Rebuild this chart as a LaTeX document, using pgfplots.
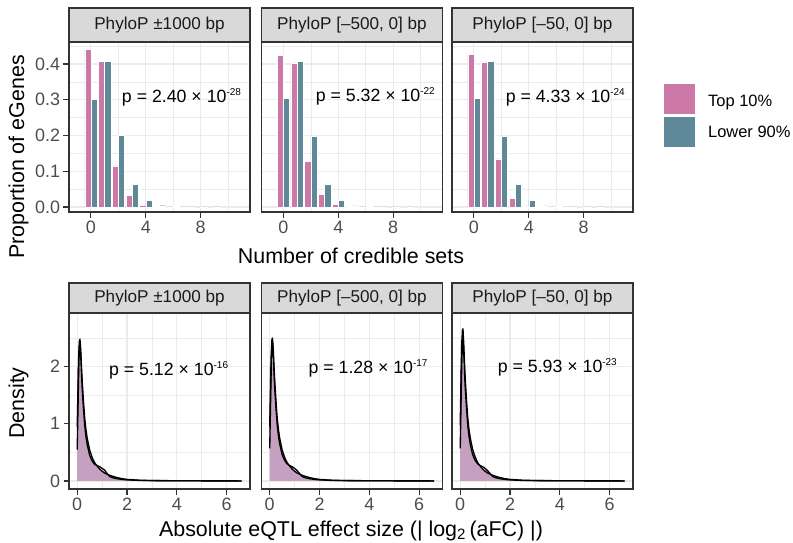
\documentclass[border=0pt]{standalone}
\usepackage{fontspec}
\setmainfont{Liberation Sans}
\usepackage{pgfplots}
\usepackage{pgfplotstable}
\pgfplotsset{compat=1.18}
\definecolor{pinkc}{HTML}{CC79A7}
\definecolor{bluec}{HTML}{5F8999}
\definecolor{fillc}{HTML}{C5A0C0}
\definecolor{g10}{HTML}{1A1A1A}
\definecolor{g20}{HTML}{333333}
\definecolor{g30}{HTML}{4D4D4D}
\definecolor{g85}{HTML}{D9D9D9}
\definecolor{g92}{HTML}{EBEBEB}
\newcommand\fs[1]{\fontsize{#1}{#1}\selectfont}
\newcommand\pv[2]{p = #1 × 10\raisebox{7bp}{\fs{10}#2}}

\pgfplotstableread{
x A B F
0 0.95 0.55 2.00
0.03 1.60 1.25 2.03
0.06 2.20 1.95 2.05
0.09 2.46 2.38 2.06
0.11 2.48 2.42 2.05
0.14 2.30 2.22 1.95
0.17 2.00 1.90 1.75
0.20 1.75 1.62 1.55
0.25 1.40 1.27 1.25
0.30 1.10 0.98 1.00
0.35 0.90 0.78 0.80
0.40 0.75 0.64 0.66
0.50 0.54 0.45 0.47
0.60 0.41 0.35 0.36
0.70 0.32 0.29 0.29
0.80 0.26 0.27 0.24
0.90 0.21 0.25 0.20
1.00 0.17 0.22 0.17
1.10 0.14 0.19 0.14
1.20 0.12 0.13 0.11
1.30 0.10 0.08 0.08
1.40 0.085 0.06 0.065
1.60 0.06 0.04 0.045
1.80 0.04 0.028 0.03
2.00 0.028 0.02 0.02
2.50 0.013 0.01 0.008
3.00 0.008 0.007 0.004
3.50 0.006 0.005 0.002
4.00 0.005 0.004 0.001
5.00 0.003 0.003 0.0005
6.00 0.002 0.002 0.0003
6.60 0.001 0.001 0.0002
}\dA
\pgfplotstableread{
x A B F
0 0.95 0.57 2.00
0.03 1.62 1.27 2.03
0.06 2.22 1.97 2.05
0.09 2.48 2.40 2.06
0.11 2.50 2.44 2.05
0.14 2.32 2.24 1.95
0.17 2.02 1.91 1.75
0.20 1.76 1.63 1.55
0.25 1.41 1.28 1.25
0.30 1.10 0.99 1.00
0.35 0.90 0.79 0.80
0.40 0.75 0.65 0.66
0.50 0.54 0.46 0.47
0.60 0.41 0.36 0.36
0.70 0.32 0.30 0.29
0.80 0.26 0.27 0.24
0.90 0.21 0.25 0.20
1.00 0.17 0.22 0.17
1.10 0.14 0.18 0.14
1.20 0.12 0.13 0.11
1.30 0.10 0.08 0.08
1.40 0.085 0.06 0.065
1.60 0.06 0.04 0.045
1.80 0.04 0.028 0.03
2.00 0.028 0.02 0.02
2.50 0.013 0.01 0.008
3.00 0.008 0.007 0.004
3.50 0.006 0.005 0.002
4.00 0.005 0.004 0.001
5.00 0.003 0.003 0.0005
6.00 0.002 0.002 0.0003
6.60 0.001 0.001 0.0002
}\dB
\pgfplotstableread{
x A B F
0 0.98 0.57 2.00
0.03 1.75 1.30 2.03
0.06 2.40 2.00 2.05
0.09 2.64 2.45 2.06
0.11 2.66 2.50 2.05
0.14 2.42 2.27 1.95
0.17 2.08 1.93 1.75
0.20 1.80 1.64 1.55
0.25 1.43 1.29 1.25
0.30 1.12 0.99 1.00
0.35 0.91 0.79 0.80
0.40 0.76 0.65 0.66
0.50 0.55 0.46 0.47
0.60 0.42 0.36 0.36
0.70 0.32 0.30 0.29
0.80 0.26 0.27 0.24
0.90 0.21 0.25 0.20
1.00 0.17 0.22 0.17
1.10 0.14 0.18 0.14
1.20 0.12 0.13 0.11
1.30 0.10 0.08 0.08
1.40 0.085 0.06 0.065
1.60 0.06 0.04 0.045
1.80 0.04 0.028 0.03
2.00 0.028 0.02 0.02
2.50 0.013 0.01 0.008
3.00 0.008 0.007 0.004
3.50 0.006 0.005 0.002
4.00 0.005 0.004 0.001
5.00 0.003 0.003 0.0005
6.00 0.002 0.002 0.0003
6.60 0.001 0.001 0.0002
}\dC

\pgfplotsset{
  panel/.style={
    scale only axis, width=181bp,
    axis background/.style={fill=white},
    axis line style={g20, line width=1.1bp},
    tick align=outside, major tick length=5.5bp, minor tick length=0pt,
    tick style={g20, line width=1.1bp},
    grid=both,
    major grid style={g92, line width=1.1bp},
    minor grid style={g92, line width=0.55bp},
    ticklabel style={font=\fs{18}, text=g30},
    /pgf/number format/assume math mode=true,
    xtick pos=bottom, ytick pos=left,
    every axis title/.style={at={(0.5,1)}, anchor=south, fill=g85, draw=g20,
      line width=1.1bp, minimum width=181bp, inner sep=0pt, font=\fs{17.2}, text=g10},
    clip=false,
  },
  top/.style={panel, height=170bp, xmin=-1.6, xmax=11.6, ymin=-0.014, ymax=0.4615,
    xtick={0,4,8}, minor xtick={2,6,10},
    ytick={0,0.1,0.2,0.3,0.4}, minor ytick={0.05,0.15,0.25,0.35,0.45},
    title style={minimum height=33.5bp}},
  bot/.style={panel, height=176bp, xmin=-0.33, xmax=6.94, ymin=-0.14, ymax=2.937,
    xtick={0,2,4,6}, minor xtick={1,3,5},
    ytick={0,1,2}, minor ytick={0.5,1.5,2.5},
    title style={minimum height=29.5bp}},
  inner/.style={yticklabels={}, ymajorticks=false, yminorticks=false},
  pk/.style={ybar, bar width=0.45, bar shift=0pt, fill=pinkc, draw=white, line width=0.4bp},
  bl/.style={ybar, bar width=0.45, bar shift=0pt, fill=bluec, draw=white, line width=0.4bp},
  dl/.style={black, line width=1.35bp, line join=round},
}

\begin{document}
\begin{tikzpicture}
\useasboundingbox (0,0) rectangle (793bp,-543bp);

% ---------- top row ----------
\begin{axis}[top, at={(69bp,-42bp)}, anchor=north west, title={PhyloP ±1000 bp},
  yticklabels={0.0,0.1,0.2,0.3,0.4}]
\addplot[pk] coordinates {(-0.225,0.441) (0.775,0.4065) (1.775,0.115) (2.775,0.032) (3.775,0.0056) (4.775,0.0012) (5.775,0.0004) (6.775,0.0002)};
\addplot[bl] coordinates {(0.225,0.302) (1.225,0.408) (2.225,0.200) (3.225,0.0636) (4.225,0.019) (5.225,0.0035) (6.225,0.0012) (7.225,0.0006) (8.225,0.0003) (9.225,0.0002)};
\node[font=\fs{17.8}] at (axis cs:6.6,0.308) {\pv{2.40}{-28}};
\end{axis}

\begin{axis}[top, inner, at={(261.5bp,-42bp)}, anchor=north west, title={PhyloP [–500, 0] bp}]
\addplot[pk] coordinates {(-0.225,0.425) (0.775,0.403) (1.775,0.128) (2.775,0.0346) (3.775,0.0065) (4.775,0.002) (5.775,0.0005) (6.775,0.0002)};
\addplot[bl] coordinates {(0.225,0.304) (1.225,0.4075) (2.225,0.198) (3.225,0.0636) (4.225,0.0187) (5.225,0.003) (6.225,0.001) (7.225,0.0005) (8.225,0.0003) (9.225,0.0002)};
\node[font=\fs{17.8}] at (axis cs:6.7,0.31) {\pv{5.32}{-22}};
\end{axis}

\begin{axis}[top, inner, at={(452bp,-42bp)}, anchor=north west, title={PhyloP [–50, 0] bp}]
\addplot[pk] coordinates {(-0.225,0.426) (0.775,0.4056) (1.775,0.1346) (2.775,0.025) (3.775,0.003) (4.775,0.002) (5.775,0.0005) (6.775,0.0002)};
\addplot[bl] coordinates {(0.225,0.304) (1.225,0.4075) (2.225,0.198) (3.225,0.0636) (4.225,0.0187) (5.225,0.003) (6.225,0.001) (7.225,0.0005) (8.225,0.0003) (9.225,0.0002)};
\node[font=\fs{17.8}] at (axis cs:6.66,0.308) {\pv{4.33}{-24}};
\end{axis}

% ---------- bottom row ----------
\begin{axis}[bot, at={(69bp,-313bp)}, anchor=north west, title={PhyloP ±1000 bp}]
\addplot[fill=fillc, draw=none] table[x=x, y=F] {\dA} \closedcycle;
\addplot[dl] table[x=x, y=A] {\dA};
\addplot[dl] table[x=x, y=B] {\dA};
\node[font=\fs{17.8}] at (axis cs:3.67,1.94) {\pv{5.12}{-16}};
\end{axis}

\begin{axis}[bot, inner, at={(261.5bp,-313bp)}, anchor=north west, title={PhyloP [–500, 0] bp}]
\addplot[fill=fillc, draw=none] table[x=x, y=F] {\dB} \closedcycle;
\addplot[dl] table[x=x, y=A] {\dB};
\addplot[dl] table[x=x, y=B] {\dB};
\node[font=\fs{17.8}] at (axis cs:3.95,1.96) {\pv{1.28}{-17}};
\end{axis}

\begin{axis}[bot, inner, at={(452bp,-313bp)}, anchor=north west, title={PhyloP [–50, 0] bp}]
\addplot[fill=fillc, draw=none] table[x=x, y=F] {\dC} \closedcycle;
\addplot[dl] table[x=x, y=A] {\dC};
\addplot[dl] table[x=x, y=B] {\dC};
\node[font=\fs{17.8}] at (axis cs:3.9,1.98) {\pv{5.93}{-23}};
\end{axis}

% ---------- axis titles ----------
\node[rotate=90, font=\fs{21.5}] at (18.5bp,-157bp) {Proportion of eGenes};
\node[anchor=base, font=\fs{21.5}] at (351bp,-263bp) {Number of credible sets};
\node[rotate=90, font=\fs{21.5}] at (18.5bp,-403bp) {Density};
\node[anchor=base, font=\fs{21.5}] at (351bp,-536bp) {Absolute eQTL effect size (| log\textsubscript{2}\,(aFC) |)};

% ---------- legend ----------
\fill[pinkc] (664bp,-84bp) rectangle (695bp,-113.5bp);
\fill[bluec] (664bp,-117bp) rectangle (695bp,-147bp);
\node[anchor=base west, font=\fs{16.5}, inner sep=0pt] at (708bp,-106.5bp) {Top 10\%};
\node[anchor=base west, font=\fs{16.5}, inner sep=0pt] at (708bp,-137.5bp) {Lower 90\%};
\end{tikzpicture}
\end{document}
